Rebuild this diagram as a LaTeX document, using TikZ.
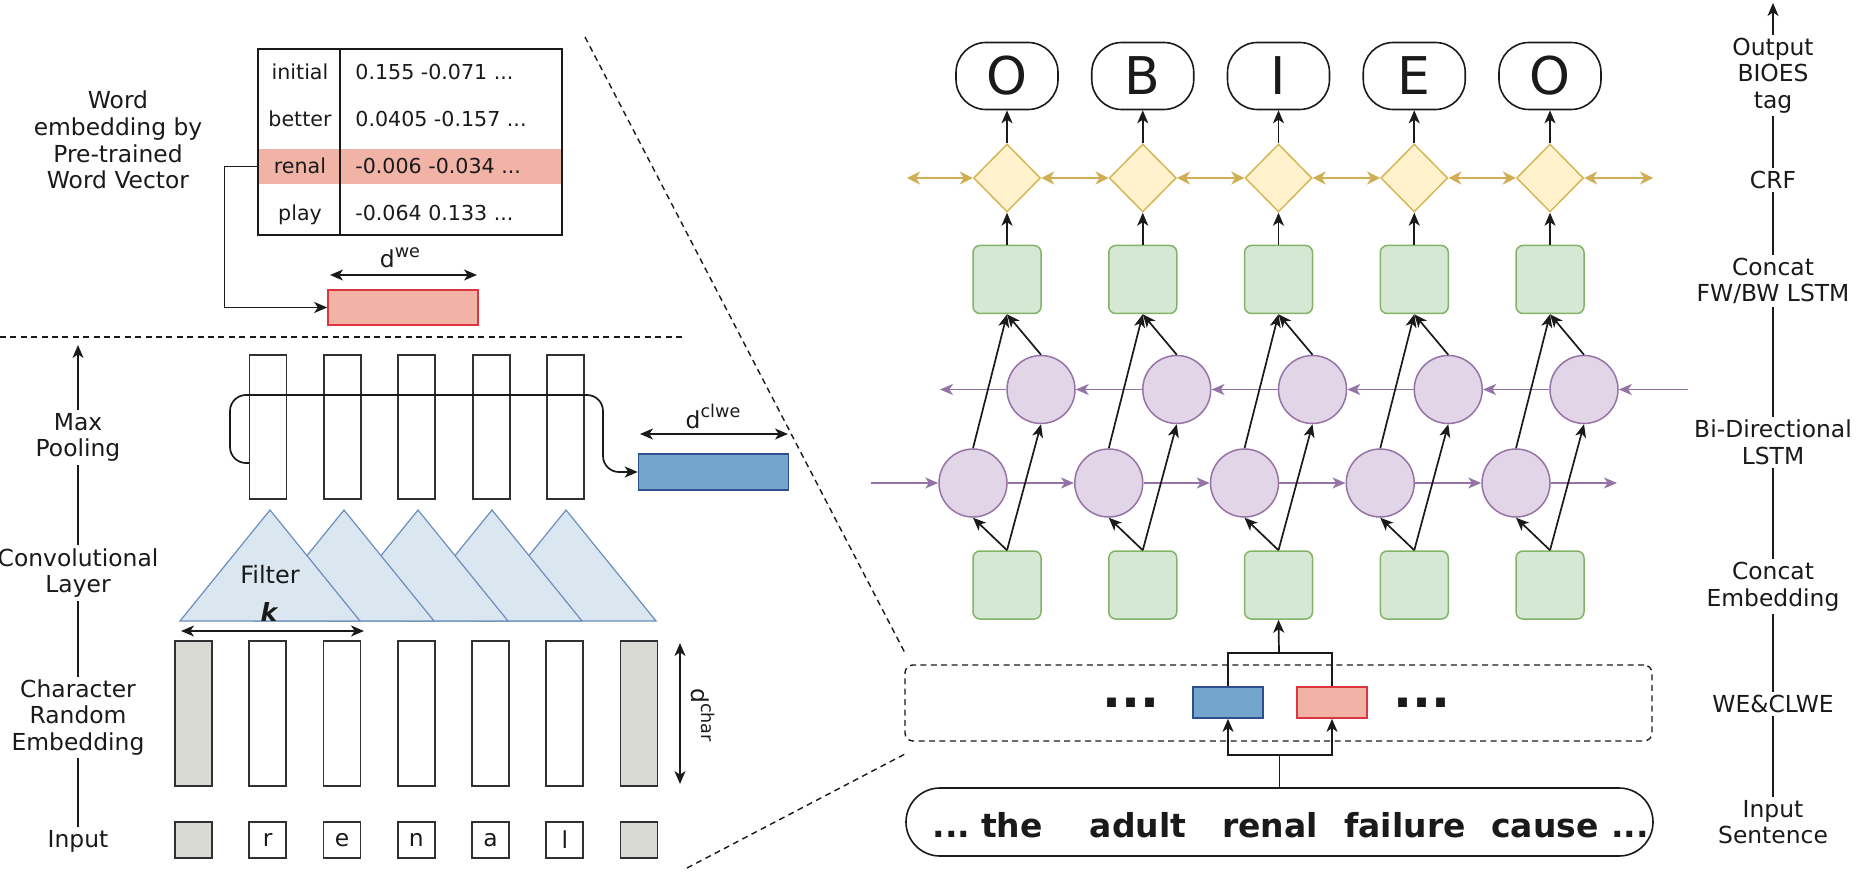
\documentclass[tikz,border=0pt]{standalone}
\usepackage{fontspec}
\setmainfont{DejaVu Sans}
\usetikzlibrary{arrows.meta,shapes.geometric,backgrounds,calc}

\definecolor{ink}{HTML}{1A1A1A}
\definecolor{salfill}{HTML}{F0B3A6}
\definecolor{salline}{HTML}{DC3540}
\definecolor{bluefill}{HTML}{74A5CC}
\definecolor{blueline}{HTML}{2F4F8F}
\definecolor{trifill}{HTML}{DAE6F0}
\definecolor{triline}{HTML}{6C8EBF}
\definecolor{grnfill}{HTML}{D5E8D4}
\definecolor{grnline}{HTML}{82B366}
\definecolor{purfill}{HTML}{E1D5E7}
\definecolor{purline}{HTML}{9673A6}
\definecolor{yelfill}{HTML}{FFF2CC}
\definecolor{yelline}{HTML}{D6B656}
\definecolor{goldarr}{HTML}{CFAE55}
\definecolor{grayfill}{HTML}{DADAD5}

\newcommand{\lblfont}{\fontsize{11.7}{13.3}\selectfont}
\newcommand{\cellfont}{\fontsize{10.3}{12}\selectfont}
\newcommand{\sups}[1]{\raisebox{0.45em}{\fontsize{8.8}{9}\selectfont #1}}

\tikzset{
  myTip/.tip={Stealth[length=6.5pt,width=5.5pt,inset=1.8pt]},
  goldTip/.tip={Stealth[length=6.5pt,width=6.5pt,inset=2pt]},
  arr/.style={-myTip, draw=ink, line width=0.85pt},
  darr/.style={myTip-myTip, draw=ink, line width=0.85pt},
  garr/.style={goldTip-goldTip, draw=goldarr, line width=0.8pt},
  parr/.style={-myTip, draw=purline, line width=0.8pt},
  dashline/.style={draw=ink, line width=0.7pt, dash pattern=on 3pt off 2.2pt},
  lbl/.style={align=center, fill=white, inner sep=1.5pt, font=\lblfont, text=ink},
  cell/.style={inner sep=0pt, font=\cellfont, text=ink},
  blk/.style={draw=ink!90, line width=0.9pt, minimum width=18.5pt, inner sep=0pt},
  tri/.style={draw=triline, fill=trifill, line width=0.6pt, line join=miter},
  outn/.style={draw=ink, line width=0.8pt, rounded corners=15pt, minimum width=51pt, minimum height=33.5pt, inner sep=0pt, font=\fontsize{26}{26}\selectfont, text=ink},
  dia/.style={shape=diamond, draw=yelline, fill=yelfill, line width=0.75pt, minimum width=33.5pt, minimum height=34pt, inner sep=0pt},
  gbox/.style={draw=grnline, fill=grnfill, line width=0.75pt, rounded corners=3.5pt, minimum width=34pt, minimum height=34pt, inner sep=0pt},
  pcirc/.style={shape=circle, draw=purline, fill=purfill, line width=0.75pt, minimum size=34pt, inner sep=0pt},
}

\begin{document}
\begin{tikzpicture}[x=0.5pt,y=-0.5pt]
\useasboundingbox (0,0) rectangle (1858,882);

% ---------------- word embedding table ----------------
\node[align=center, inner sep=0pt, font=\lblfont, text=ink] (wevlbl) at (118,140) {Word\\embedding by\\Pre-trained\\Word Vector};

\node[fill=salfill, minimum width=152pt, minimum height=17.5pt, inner sep=0pt] (renalrow) at (410,166.5) {};
\node[draw=ink, line width=1pt, minimum width=152pt, minimum height=93pt, inner sep=0pt] (tbl) at (410,142) {};
\draw[line width=1pt, draw=ink] ($(tbl.north west)+(83,0)$) -- ($(tbl.south west)+(83,0)$);

\node[cell, anchor=base] (w1) at (300,80) {initial};
\node[cell, anchor=base west] (v1) at (355,80) {0.155 -0.071 ...};
\node[cell, anchor=base] (w2) at (300,127) {better};
\node[cell, anchor=base west] (v2) at (355,127) {0.0405 -0.157 ...};
\node[cell, anchor=base] (w3) at (300,174) {renal};
\node[cell, anchor=base west] (v3) at (355,174) {-0.006 -0.034 ...};
\node[cell, anchor=base] (w4) at (300,221) {play};
\node[cell, anchor=base west] (v4) at (355,221) {-0.064 0.133 ...};

\node[draw=salline, fill=salfill, line width=0.8pt, minimum width=75pt, minimum height=17.5pt, inner sep=0pt] (we) at (403,307.5) {};
\draw[arr] (renalrow.west) -- ++(-33,0) |- (we.west);

\coordinate (dweL) at (330,275);
\coordinate (dweR) at (477,275);
\draw[darr] (dweL) -- (dweR);
\node[anchor=base, inner sep=0pt, font=\lblfont, text=ink] (dwelbl) at (400,268) {d\sups{we}};

% separator
\coordinate (hl0) at (0,337);
\coordinate (hl1) at (686,337);
\draw[dashline] (hl0) -- (hl1);

% ---------------- char CNN ----------------
\node[draw=blueline, fill=bluefill, line width=0.8pt, minimum width=75pt, minimum height=18pt, inner sep=0pt] (clwe) at (713.5,472) {};

\foreach \i in {1,...,5} {
  \node[blk, minimum height=72pt] (mp\i) at ({268+74.4*(\i-1)},427) {};
}
\coordinate (brs) at (249,463);
\draw[arr, rounded corners=8pt] (brs) -- (230,463) -- (230,395) -- (603,395) -- (603,472) -- (clwe.west);

\coordinate (dclL) at (640,434);
\coordinate (dclR) at (788,434);
\draw[darr] (dclL) -- (dclR);
\node[anchor=base, inner sep=0pt, font=\lblfont, text=ink] (dcllbl) at (713,428) {d\sups{clwe}};

\foreach \i in {4,3,2,1,0} {
  \pgfmathsetmacro\ax{270+74*\i}
  \draw[tri] (\ax,510) -- (\ax+90,621) -- (\ax-90,621) -- cycle;
}
\node[inner sep=0pt, font=\fontsize{12}{12}\selectfont, text=ink] (filt) at (270,575) {Filter};
\node[inner sep=0pt, font=\fontsize{12.5}{12}\selectfont\bfseries\itshape, text=ink] (klbl) at (269,612) {k};
\coordinate (kL) at (181,631);
\coordinate (kR) at (364,631);
\draw[darr] (kL) -- (kR);

\foreach \i/\c/\f in {0//grayfill,1/r/white,2/e/white,3/n/white,4/a/white,5/l/white,6//grayfill} {
  \node[blk, fill=\f, minimum height=72.5pt] (ce\i) at ({193.5+74.25*\i},713.5) {};
  \node[blk, fill=\f, minimum height=18pt, font=\lblfont, text=ink] (in\i) at ({193.5+74.25*\i},840) {\c};
}
\coordinate (dchT) at (680,643);
\coordinate (dchB) at (680,784);
\draw[darr] (dchT) -- (dchB);
\node[rotate=-90, inner sep=0pt, font=\lblfont, text=ink] (dchlbl) at (703,715) {d\sups{char}};

% left axis
\node[lbl] (lMax) at (78,437.5) {Max\\Pooling};
\node[lbl] (lConv) at (78,573) {Convolutional\\Layer};
\node[lbl] (lChar) at (78,717.5) {Character\\Random\\Embedding};
\node[lbl] (lIn) at (78,841) {Input};
\coordinate (axLtop) at (78,345);
\begin{pgfonlayer}{background}
  \draw[arr, line width=0.7pt] (lIn.north) -- (axLtop);
\end{pgfonlayer}

% zoom lines
\coordinate (zA1) at (585,37);
\coordinate (zA2) at (905,653);
\coordinate (zB1) at (687,868);
\coordinate (zB2) at (905,754);
\draw[dashline] (zA1) -- (zA2);
\draw[dashline] (zB1) -- (zB2);

% ---------------- BiLSTM-CRF ----------------
\foreach \i/\t in {0/O,1/B,2/I,3/E,4/O} {
  \pgfmathsetmacro\xc{1007+135.75*\i}
  \node[outn] (O\i) at (\xc,76) {\t};
  \node[dia] (D\i) at (\xc,178) {};
  \node[gbox] (Gt\i) at (\xc,279.5) {};
  \node[pcirc] (B\i) at (\xc+34,389.5) {};
  \node[pcirc] (F\i) at (\xc-34,483) {};
  \node[gbox] (Gb\i) at (\xc,585) {};
}

\coordinate (crfL) at (907,178);
\coordinate (crfR) at (1653,178);
\draw[garr] (crfL) -- (D0.west);
\draw[garr] (D4.east) -- (crfR);
\coordinate (bwR) at (1688,389.5);
\coordinate (bwL) at (940,389.5);
\draw[parr] (bwR) -- (B4.east);
\draw[parr] (B0.west) -- (bwL);
\coordinate (fwL) at (871,483);
\coordinate (fwR) at (1617,483);
\draw[parr] (fwL) -- (F0.west);
\draw[parr] (F4.east) -- (fwR);
\foreach \i in {0,1,2,3} {
  \pgfmathtruncatemacro\j{\i+1}
  \draw[garr] (D\i.east) -- (D\j.west);
  \draw[parr] (B\j.west) -- (B\i.east);
  \draw[parr] (F\i.east) -- (F\j.west);
}
\foreach \i in {0,...,4} {
  \draw[arr] (Gb\i.north) -- (F\i.south);
  \draw[arr] (Gb\i.north) -- (B\i.south);
  \draw[arr] (F\i.north) -- (Gt\i.south);
  \draw[arr] (B\i.north) -- (Gt\i.south);
  \draw[arr] (Gt\i.north) -- (D\i.south);
  \draw[arr] (D\i.north) -- (O\i.south);
}

% WE & CLWE
\node[draw=ink, dash pattern=on 3pt off 2.2pt, line width=0.7pt, rounded corners=4pt, minimum width=373.5pt, minimum height=38pt, inner sep=0pt] (webox) at (1278.5,703) {};
\node[inner sep=0pt, font=\fontsize{25}{25}\selectfont\bfseries, text=ink] (dotsL) at (1131,703) {...};
\node[inner sep=0pt, font=\fontsize{25}{25}\selectfont\bfseries, text=ink] (dotsR) at (1422,703) {...};
\node[draw=blueline, fill=bluefill, line width=0.8pt, minimum width=35pt, minimum height=15.5pt, inner sep=0pt] (sb) at (1228,702.5) {};
\node[draw=salline, fill=salfill, line width=0.8pt, minimum width=35pt, minimum height=15.5pt, inner sep=0pt] (sr) at (1332,702.5) {};
\coordinate (jt) at (1279,653);
\draw[draw=ink, line width=0.85pt] (sb.north) |- (jt) -| (sr.north);
\draw[arr] (jt) -- (Gb2.south);

\node[draw=ink, line width=0.8pt, rounded corners=17pt, minimum width=373.5pt, minimum height=34pt, inner sep=0pt] (sent) at (1279.5,822) {};
\coordinate (jb) at (1279.5,755);
\draw[draw=ink, line width=0.85pt] (sent.north) -- (jb);
\draw[arr] (jb) -| (sb.south);
\draw[arr] (jb) -| (sr.south);

\begin{scope}[every node/.style={anchor=base, inner sep=0pt, font=\fontsize{16.5}{18}\selectfont\bfseries, text=ink}]
  \node (s0) at (951.5,837) {...};
  \node (s1) at (1012,837) {the};
  \node (s2) at (1138,837) {adult};
  \node (s3) at (1270,837) {renal};
  \node (s4) at (1405,837) {failure};
  \node (s5) at (1545,837) {cause};
  \node (s6) at (1630,837) {...};
\end{scope}

% right axis
\node[lbl] (rOut) at (1773,75.5) {Output\\BIOES\\tag};
\node[lbl] (rCrf) at (1773,180) {CRF};
\node[lbl] (rCat) at (1773,281) {Concat\\FW/BW LSTM};
\node[lbl] (rBi) at (1773,442.5) {Bi-Directional\\LSTM};
\node[lbl] (rEmb) at (1773,586.5) {Concat\\Embedding};
\node[lbl] (rWe) at (1773,704) {WE\&CLWE};
\node[lbl] (rIn) at (1773,822) {Input\\Sentence};
\coordinate (axRtop) at (1773,3);
\begin{pgfonlayer}{background}
  \draw[arr, line width=0.7pt] (rIn.north) -- (axRtop);
\end{pgfonlayer}
\end{tikzpicture}
\end{document}
